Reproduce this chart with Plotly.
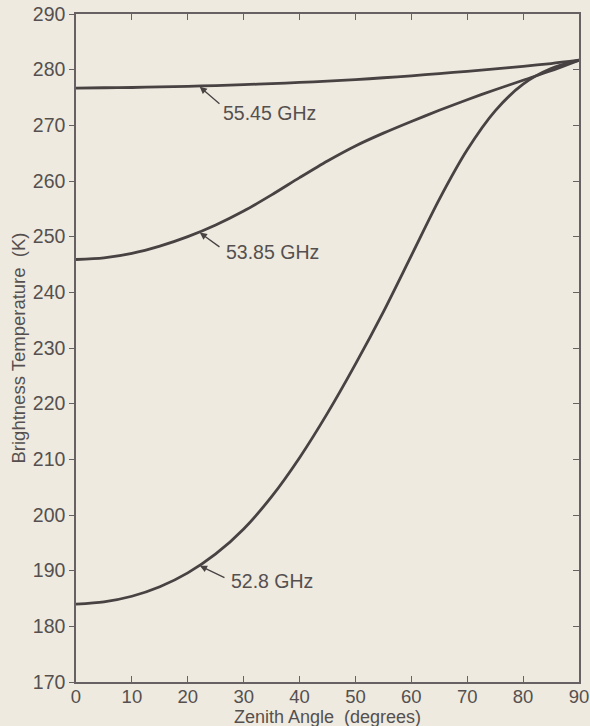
import numpy as np
import plotly.graph_objects as go

# Zenith angle samples (degrees)
angle = [0, 5, 10, 15, 20, 25, 30, 35, 40, 45, 50, 55, 60, 65, 70, 75, 80, 85, 90]

# Brightness temperature (K) for each channel
tb_5545 = [276.7, 276.75, 276.8, 276.9, 277.0, 277.15, 277.3, 277.5, 277.7, 277.95,
           278.2, 278.55, 278.9, 279.3, 279.7, 280.15, 280.6, 281.1, 281.7]
tb_5385 = [245.9, 246.2, 247.0, 248.3, 250.0, 252.1, 254.6, 257.5, 260.6, 263.6,
           266.3, 268.6, 270.7, 272.7, 274.6, 276.4, 278.1, 279.8, 281.7]
tb_528 = [184.0, 184.4, 185.4, 187.1, 189.6, 193.0, 197.5, 203.3, 210.3, 218.3,
          227.1, 236.5, 246.6, 256.7, 265.6, 272.6, 277.4, 280.2, 281.7]

channels = ["55.45 GHz", "53.85 GHz", "52.8 GHz"]
series = [tb_5545, tb_5385, tb_528]

x_ticks = list(range(0, 91, 10))
y_ticks = list(range(170, 291, 10))

BG = "#eeeadf"
INK = "#484243"
TXT = "#55504f"
AX = "#676163"
FONT = "Liberation Sans, Arial, sans-serif"

fig = go.Figure()
for name, tb in zip(channels, series):
    fig.add_trace(go.Scatter(
        x=angle, y=tb, mode="lines", name=name,
        line=dict(color=INK, width=2.8, shape="spline", smoothing=0.8),
        showlegend=False, hoverinfo="skip",
    ))

# helper trace so the right-hand tick axis is drawn
fig.add_trace(go.Scatter(x=[None], y=[None], yaxis="y2", showlegend=False, hoverinfo="skip"))

# callouts: arrow to the curve at 22 degrees, label to the lower right
tip_angle = 22
arrow_offsets = [(22, 19), (22, 16), (27, 13)]
label_pos = [(26.0, 272.3), (26.5, 247.2), (27.4, 188.2)]
for name, tb, (ax, ay), (lx, ly) in zip(channels, series, arrow_offsets, label_pos):
    tip_y = float(np.interp(tip_angle, angle, tb))
    fig.add_annotation(
        x=tip_angle, y=tip_y, text="", showarrow=True,
        ax=ax, ay=ay, arrowhead=2, arrowsize=1.1, arrowwidth=1.3,
        arrowcolor=INK, standoff=1,
    )
    fig.add_annotation(
        x=lx, y=ly, text=name, showarrow=False, xanchor="left", yanchor="middle",
        font=dict(family=FONT, size=19.5, color=TXT),
    )

# x-axis title, set just under the tick labels
fig.add_annotation(
    x=0.5, y=0, xref="paper", yref="paper", xanchor="center", yanchor="middle",
    yshift=-35, text="Zenith Angle  (degrees)", showarrow=False,
    font=dict(family=FONT, size=18, color=TXT),
)

fig.update_layout(
    width=590, height=726,
    margin=dict(l=76, r=11, t=14, b=44, autoexpand=False),
    paper_bgcolor=BG, plot_bgcolor=BG,
    font=dict(family=FONT, size=19, color=TXT),
    xaxis=dict(
        range=[0, 90], tickvals=x_ticks, ticks="inside", ticklen=6, tickwidth=1.3,
        tickcolor=AX, showline=True, linecolor=AX, linewidth=1.5, mirror="ticks",
        showgrid=False, zeroline=False, ticklabelstandoff=-3,
        tickfont=dict(size=18.5),
    ),
    yaxis=dict(
        range=[170, 290], tickvals=y_ticks, ticks="outside", ticklen=5, tickwidth=1.3,
        tickcolor=AX, showline=True, linecolor=AX, linewidth=1.5, mirror=True,
        showgrid=False, zeroline=False,
        title=dict(text="Brightness Temperature  (K)", font=dict(size=18.5), standoff=2),
        tickfont=dict(size=19.5),
    ),
    yaxis2=dict(
        range=[170, 290], tickvals=y_ticks, overlaying="y", side="right",
        ticks="inside", ticklen=6, tickwidth=1.3, tickcolor=AX,
        showticklabels=False, showline=False, showgrid=False, zeroline=False,
    ),
)

fig.write_html("out.html")
